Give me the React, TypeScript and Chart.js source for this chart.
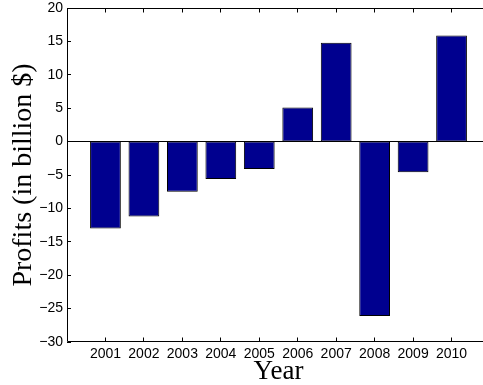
import React, { useEffect, useRef } from 'react';
import { Chart, registerables } from 'chart.js';

Chart.register(...registerables);

// ---- data ----
const years = ['2001', '2002', '2003', '2004', '2005', '2006', '2007', '2008', '2009', '2010'];
const profits = [-13.0, -11.2, -7.5, -5.6, -4.1, 5.1, 14.8, -26.1, -4.6, 15.9];
const yMin = -30;
const yMax = 20;
const yStep = 5;
const xTitle = 'Year';
const yTitle = 'Profits (in billion $)';

const framePlugin = {
  id: 'matlabFrame',
  afterDatasetsDraw(chart: any) {
    const { ctx, chartArea, scales } = chart;
    const { left, right, top, bottom } = chartArea;
    const xs = scales.x;
    const ys = scales.y;
    const snap = (v: number) => Math.floor(v) + 0.5;
    ctx.save();
    ctx.strokeStyle = '#000';
    ctx.lineWidth = 1;
    // baseline at zero
    const y0 = snap(ys.getPixelForValue(0));
    ctx.beginPath();
    ctx.moveTo(left, y0);
    ctx.lineTo(right, y0);
    ctx.stroke();
    // frame: top, left, bottom (right side lies beyond the visible area)
    const l = snap(left);
    const t = snap(top);
    const b = snap(bottom - 1);
    ctx.beginPath();
    ctx.moveTo(right, t);
    ctx.lineTo(l, t);
    ctx.lineTo(l, b);
    ctx.lineTo(right, b);
    ctx.stroke();
    // x ticks (inward, bottom and top)
    const tl = 4;
    ctx.beginPath();
    for (let i = 1; i <= years.length; i++) {
      const px = snap(xs.getPixelForValue(i));
      ctx.moveTo(px, b);
      ctx.lineTo(px, b - tl);
      ctx.moveTo(px, t);
      ctx.lineTo(px, t + tl);
    }
    // y ticks (inward, left)
    ys.ticks.forEach((tk: any) => {
      const py = snap(ys.getPixelForValue(tk.value));
      ctx.moveTo(left, py);
      ctx.lineTo(left + tl, py);
    });
    ctx.stroke();
    ctx.restore();
  },
};

export default function App() {
  const ref = useRef<HTMLCanvasElement | null>(null);

  useEffect(() => {
    document.body.style.margin = '0';
    const canvas = ref.current;
    if (!canvas) return;
    const labels = ['', ...years, ''];
    const data = [null, ...profits, null];
    const chart = new Chart(canvas, {
      type: 'bar',
      data: {
        labels,
        datasets: [
          {
            data: data as any,
            backgroundColor: '#00008F',
            borderColor: '#000000',
            borderWidth: 1,
            borderSkipped: false,
            categoryPercentage: 1,
            barPercentage: 0.8,
          },
        ],
      },
      plugins: [framePlugin],
      options: {
        animation: false,
        responsive: false,
        devicePixelRatio: 1,
        layout: { padding: { top: 8, left: 0, right: 0, bottom: 0 } },
        plugins: {
          legend: { display: false },
          tooltip: { enabled: false },
        },
        scales: {
          x: {
            type: 'category',
            offset: false,
            grid: { display: false, drawTicks: false },
            border: { display: false },
            ticks: {
              autoSkip: false,
              maxRotation: 0,
              minRotation: 0,
              padding: 0,
              color: '#000',
              font: { family: '"Liberation Sans", Arial, sans-serif', size: 14, lineHeight: 1.8 },
            },
            title: {
              display: true,
              text: xTitle,
              color: '#000',
              font: { family: '"Liberation Serif", "Times New Roman", serif', size: 27, lineHeight: 0.9 },
              padding: { top: 0, bottom: 1 },
            },
            afterFit: (s: any) => {
              s.height = 43;
              s.paddingLeft = 0;
              s.paddingRight = 0;
            },
          },
          y: {
            min: yMin,
            max: yMax,
            grid: { display: false, drawTicks: false },
            border: { display: false },
            ticks: {
              stepSize: yStep,
              padding: 4,
              color: '#000',
              font: { family: '"Liberation Sans", Arial, sans-serif', size: 14 },
              callback: (v: any) => (Number(v) < 0 ? '\u2212' + Math.abs(Number(v)) : String(v)),
            },
            title: {
              display: true,
              text: yTitle,
              color: '#000',
              font: { family: '"Liberation Serif", "Times New Roman", serif', size: 28, lineHeight: 1 },
              padding: { top: 10, bottom: 0 },
            },
            afterFit: (s: any) => {
              s.width = 67;
              s.paddingTop = 0;
              s.paddingBottom = 0;
            },
          },
        },
      },
    });
    return () => chart.destroy();
  }, []);

  return (
    <div style={{ width: 483, height: 385, overflow: 'hidden', position: 'relative', background: '#fff' }}>
      <canvas ref={ref} width={490} height={385} style={{ display: 'block' }} />
    </div>
  );
}
